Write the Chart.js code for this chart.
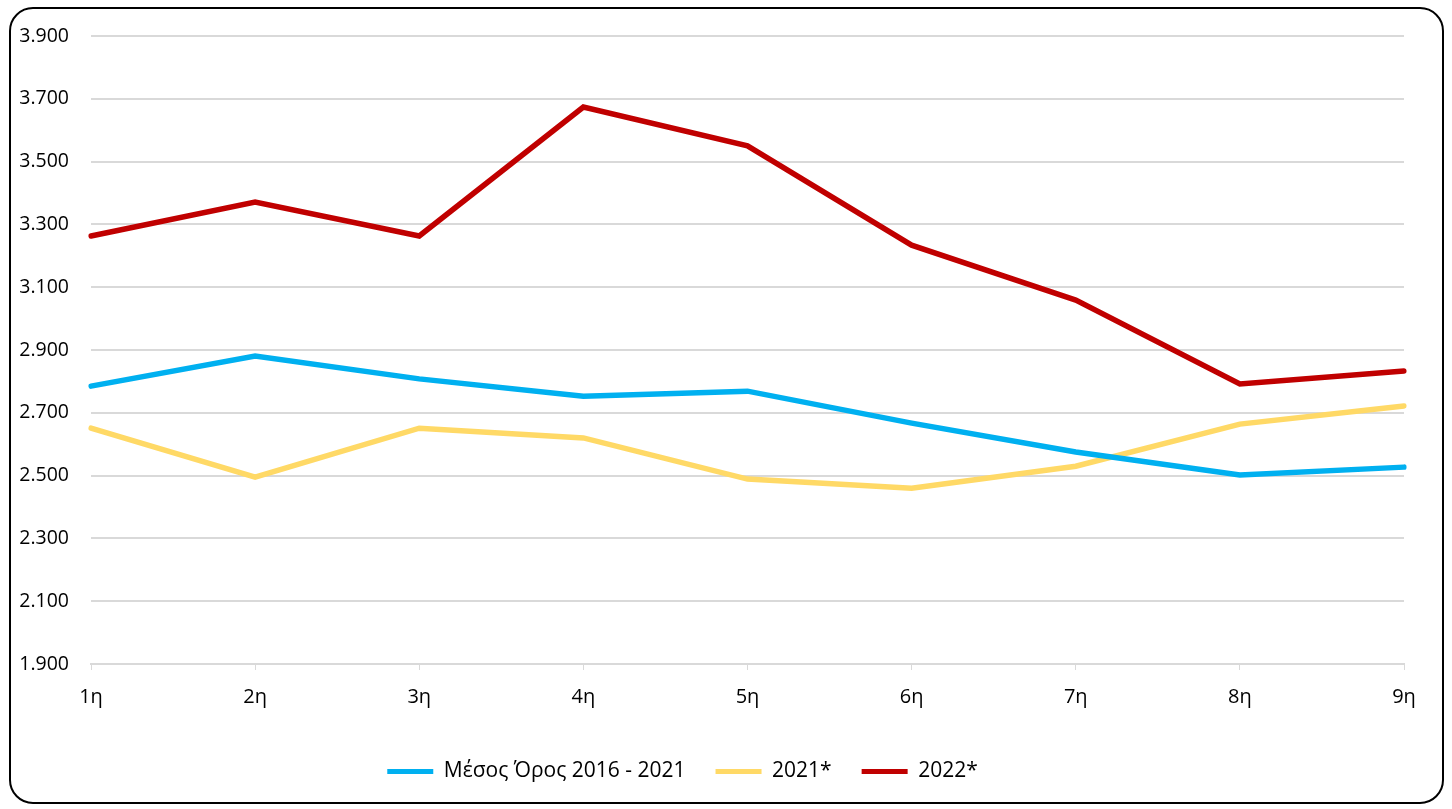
<!DOCTYPE html>
<html>
<head>
<meta charset="utf-8">
<script src="https://cdn.jsdelivr.net/npm/chart.js@4/dist/chart.umd.min.js"></script>
<style>
  html, body { margin: 0; padding: 0; background: #fff; }
  #frame {
    position: absolute; left: 9px; top: 7px; width: 1435px; height: 797px;
    border: 2px solid #000; border-radius: 24px; box-sizing: border-box;
    background: #fff; overflow: hidden;
  }
  #wrap { position: absolute; left: 0; top: 0; right: 0; bottom: 0; }
</style>
</head>
<body>
<div id="frame"><div id="wrap"><canvas id="chart"></canvas></div></div>
<script>
const fontFamily = "'Open Sans', sans-serif";

const periods = ['1η', '2η', '3η', '4η', '5η', '6η', '7η', '8η', '9η'];

const avg2016_2021 = [2785, 2881, 2808, 2753, 2769, 2667, 2575, 2502, 2527];
const y2021 = [2651, 2495, 2651, 2620, 2489, 2460, 2530, 2664, 2722];
const y2022 = [3263, 3371, 3263, 3674, 3550, 3234, 3059, 2792, 2833];

const colors = {
  avg:  '#00b0f0',
  y21:  '#ffd966',
  y22:  '#c00000',
};

function makeLine(label, data, color) {
  return {
    label,
    data,
    borderColor: color,
    backgroundColor: color,
    borderWidth: 5.5,
    pointRadius: 0,
    tension: 0,
    borderCapStyle: 'round',
    borderJoinStyle: 'miter',
    fill: false,
  };
}

// legend sits a bit left of centre in the original
const legendShift = {
  id: 'legendShift',
  afterUpdate(chart) {
    chart.legend.left -= 25;
    chart.legend.right -= 25;
  },
};

new Chart(document.getElementById('chart'), {
  type: 'line',
  data: {
    labels: periods,
    datasets: [
      makeLine('Μέσος Όρος 2016 - 2021', avg2016_2021, colors.avg),
      makeLine('2021*', y2021, colors.y21),
      makeLine('2022*', y2022, colors.y22),
    ],
  },
  plugins: [legendShift],
  options: {
    responsive: true,
    maintainAspectRatio: false,
    animation: false,
    layout: { padding: { left: 0, right: 38, top: 27, bottom: 10 } },
    plugins: {
      legend: {
        position: 'bottom',
        labels: {
          color: '#595959',
          font: { family: fontFamily, size: 21 },
          boxWidth: 46,
          boxHeight: 5,
          padding: 30,
          generateLabels: chart => chart.data.datasets.map((ds, i) => ({
            text: ds.label,
            fillStyle: ds.borderColor,
            strokeStyle: ds.borderColor,
            lineWidth: 0,
            datasetIndex: i,
          })),
        },
      },
      tooltip: { enabled: false },
    },
    scales: {
      x: {
        offset: false,
        afterFit: s => { s.height = 67; },
        ticks: {
          color: '#000',
          font: { family: fontFamily, size: 20 },
          padding: 15,
          maxRotation: 0,
        },
        grid: {
          display: true,
          drawOnChartArea: false,
          drawTicks: true,
          tickLength: 6,
          color: '#d9d9d9',
        },
        border: { color: '#d9d9d9', width: 2 },
      },
      y: {
        min: 1900,
        max: 3900,
        afterFit: s => { s.width = 80; s.paddingTop = 0; },
        ticks: {
          stepSize: 200,
          color: '#000',
          font: { family: fontFamily, size: 19.5 },
          padding: 22,
          callback: v => v.toLocaleString('de-DE'),
        },
        grid: { color: '#d9d9d9', lineWidth: 2, drawTicks: false },
        border: { display: false },
      },
    },
  },
});
</script>
</body>
</html>
